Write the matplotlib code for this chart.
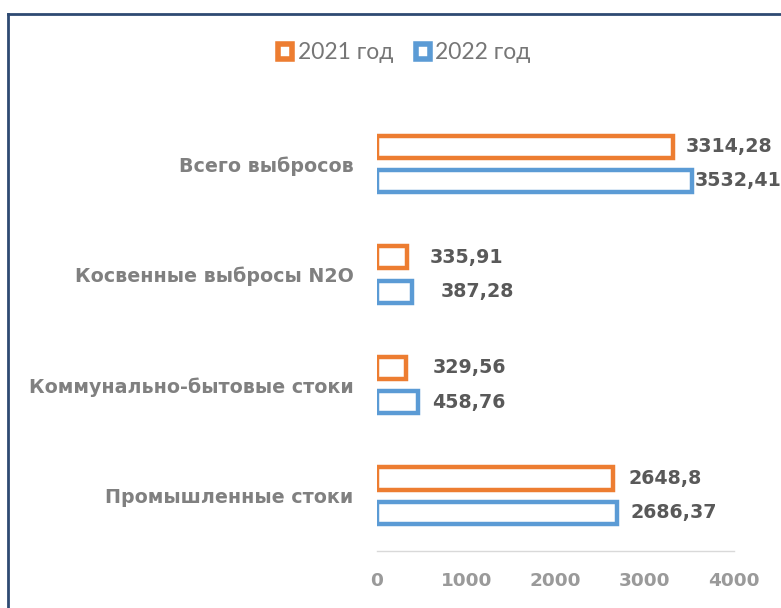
import numpy as np
import matplotlib.pyplot as plt
from matplotlib.patches import Rectangle
from matplotlib.lines import Line2D

# data (bottom to top)
categories = ["Промышленные стоки", "Коммунально-бытовые стоки",
              "Косвенные выбросы N2O", "Всего выбросов"]
values_2021 = [2648.8, 329.56, 335.91, 3314.28]
values_2022 = [2686.37, 458.76, 387.28, 3532.41]
labels_2021 = ["2648,8", "329,56", "335,91", "3314,28"]
labels_2022 = ["2686,37", "458,76", "387,28", "3532,41"]
series_names = ["2021 год", "2022 год"]
x_ticks = [0, 1000, 2000, 3000, 4000]

# label offsets in pixels (Excel placement is a bit irregular)
off_2021 = [15, 26, 23, 13]
off_2022 = [14, 14, 29, 2]

orange = "#ED7D31"
blue = "#5B9BD5"

fig = plt.figure(figsize=(7.81, 6.08), dpi=100)
ax = fig.add_axes([0.4827, 0.0938, 0.4571, 0.7277])

y = np.arange(len(categories))
h = 0.2
gap = 0.155
for vals, labs, offs, col, dy in [(values_2021, labels_2021, off_2021, orange, gap),
                                  (values_2022, labels_2022, off_2022, blue, -gap)]:
    ax.barh(y + dy, vals, height=h, facecolor="white", edgecolor=col, linewidth=3.2)
    for yi, v, lab, o in zip(y, vals, labs, offs):
        ax.annotate(lab, (v, yi + dy), xytext=(o, 0), textcoords="offset pixels",
                    va="center", ha="left", fontsize=13.7, fontweight="bold",
                    color="#595959", family="DejaVu Sans", annotation_clip=False)

ax.set_xlim(0, 4000)
ax.set_ylim(-0.5, len(categories) - 0.5)
ax.set_xticks(x_ticks)
ax.set_xticklabels([str(t) for t in x_ticks], fontsize=13.3, fontweight="bold",
                   color="#9a9a9a", family="DejaVu Sans")
ax.set_yticks(y)
ax.set_yticklabels(categories, fontsize=13.7, fontweight="bold", color="#808080",
                   family="DejaVu Sans")
ax.tick_params(axis="both", length=0)
ax.tick_params(axis="x", pad=15)
ax.tick_params(axis="y", pad=17)
for s in ["top", "right", "left"]:
    ax.spines[s].set_visible(False)
ax.spines["bottom"].set_color("#d9d9d9")
ax.spines["bottom"].set_linewidth(1)

handles = [Rectangle((0, 0), 1, 1, facecolor="white", edgecolor=orange, linewidth=4),
           Rectangle((0, 0), 1, 1, facecolor="white", edgecolor=blue, linewidth=4)]
fig.legend(handles, series_names, loc="center", bbox_to_anchor=(0.518, 0.913),
           ncol=2, frameon=False, handlelength=0.6, handleheight=0.6,
           handletextpad=0.25, columnspacing=1.0,
           prop={"family": "Lato", "size": 16.5}, labelcolor="#767676")

# chart border (left and top edge visible)
fig.add_artist(Line2D([0.010, 0.010], [0, 0.977], color="#2E4A72", linewidth=2))
fig.add_artist(Line2D([0.010, 1.0], [0.977, 0.977], color="#2E4A72", linewidth=2))

fig.savefig("out.png", dpi=100)
